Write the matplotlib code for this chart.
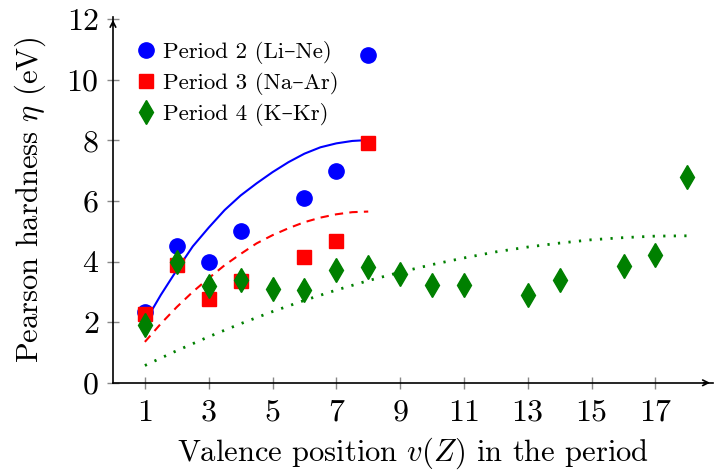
import numpy as np
import matplotlib
matplotlib.use("Agg")
import matplotlib.pyplot as plt

plt.rcParams['font.family'] = ['cmr10', 'DejaVu Serif']
plt.rcParams['mathtext.fontset'] = 'cm'
plt.rcParams['axes.formatter.use_mathtext'] = True

# measured hardness values
x_p2 = [1, 2, 3, 4, 6, 7, 8]
eta_p2 = [2.35, 4.5, 4.0, 5.0, 6.1, 7.0, 10.8]

x_p3 = [1, 2, 3, 4, 6, 7, 8]
eta_p3 = [2.27, 3.89, 2.75, 3.36, 4.15, 4.68, 7.9]

x_p4 = [1, 2, 3, 4, 5, 6, 7, 8, 9, 10, 11, 13, 14, 16, 17, 18]
eta_p4 = [1.91, 3.99, 3.2, 3.4, 3.1, 3.07, 3.73, 3.82, 3.6, 3.24, 3.24, 2.9, 3.4, 3.87, 4.21, 6.8]

# model curves
xm_p2 = [1, 1.5, 2, 2.5, 3, 3.5, 4, 4.5, 5, 5.5, 6, 6.5, 7, 7.5, 8]
ym_p2 = [2.0, 2.9, 3.72, 4.5, 5.12, 5.7, 6.18, 6.58, 6.95, 7.28, 7.56, 7.77, 7.9, 7.98, 8.01]

xm_p3 = [1, 1.5, 2, 2.5, 3, 3.5, 4, 4.5, 5, 5.5, 6, 6.5, 7, 7.5, 8]
ym_p3 = [1.35, 1.95, 2.5, 3.0, 3.45, 3.88, 4.25, 4.6, 4.87, 5.1, 5.3, 5.45, 5.56, 5.63, 5.65]

xm_p4 = list(range(1, 19))
ym_p4 = [0.57, 1.06, 1.52, 1.95, 2.35, 2.72, 3.06, 3.37, 3.65, 3.9, 4.12, 4.32, 4.48, 4.61, 4.72, 4.79, 4.84, 4.85]

fig = plt.figure(figsize=(7.15, 4.72), dpi=100)
ax = fig.add_axes([0.158, 0.189, 0.839, 0.775])

ax.plot(xm_p2, ym_p2, '-', color='blue', lw=1.5, solid_joinstyle='round')
ax.plot(xm_p3, ym_p3, '--', color='red', lw=1.5, dashes=(4, 3))
ax.plot(xm_p4, ym_p4, ':', color='green', lw=2, dashes=(0.8, 3))

ax.plot(x_p2, eta_p2, 'o', color='blue', ms=11, ls='none', label='Period 2 (Li–Ne)')
ax.plot(x_p3, eta_p3, 's', color='red', ms=10, ls='none', label='Period 3 (Na–Ar)')
ax.plot(x_p4, eta_p4, 'd', color='green', ms=12, ls='none', label='Period 4 (K–Kr)')

ax.set_xlim(0, 18.8)
ax.set_ylim(0, 12.07)
ax.set_xticks(range(1, 18, 2))
ax.set_yticks(range(0, 13, 2))

for s in ['top', 'right']:
    ax.spines[s].set_visible(False)
for s in ['left', 'bottom']:
    ax.spines[s].set_linewidth(1.2)
ax.tick_params(direction='inout', length=8, width=1, color='#888888', labelsize=23)
ax.tick_params(axis='x', pad=8)
ax.tick_params(axis='y', pad=6)
ax.annotate('', xy=(1.0, 0), xytext=(0.98, 0), xycoords='axes fraction',
            arrowprops=dict(arrowstyle='->', color='black', lw=1.2), annotation_clip=False)
ax.annotate('', xy=(0, 1.0), xytext=(0, 0.97), xycoords='axes fraction',
            arrowprops=dict(arrowstyle='->', color='black', lw=1.2), annotation_clip=False)

ax.set_xlabel('Valence position $v(Z)$ in the period', fontsize=22, labelpad=6)
ax.set_ylabel('Pearson hardness $\\eta$ (eV)', fontsize=22, labelpad=13)

ax.legend(loc='upper left', bbox_to_anchor=(0.025, 0.96), frameon=False, fontsize=16.5,
          handlelength=0.8, handletextpad=0.35, labelspacing=0.35, borderaxespad=0)

fig.savefig('out.png', dpi=100)
